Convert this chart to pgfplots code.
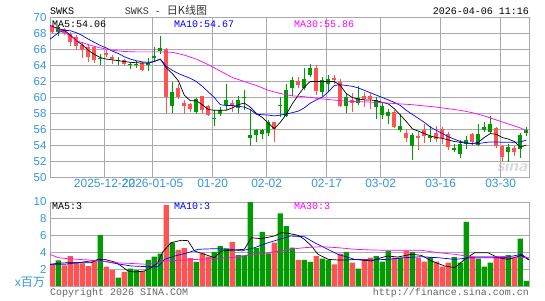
\documentclass[border=0pt]{standalone}
\usepackage{fontspec}
\setmainfont{Liberation Sans}
\setmonofont{Liberation Mono}
\newfontfamily\cjk{Noto Sans CJK SC}
\usepackage{pgfplots}
\usepackage{pgfplotstable}
\pgfplotsset{compat=1.18}
\definecolor{cred}{RGB}{255,82,82}
\definecolor{cgreen}{RGB}{0,155,0}
\definecolor{lblue}{RGB}{51,150,220}
\definecolor{gridc}{RGB}{170,170,170}
\definecolor{cmag}{RGB}{255,0,255}

% red (rising) candles: i open high low close volume(millions)
\pgfplotstableread{
i o h l c v
0 68.17 69.08 67.96 68.92 2.58
2 68.08 68.67 67.83 68.50 2.46
3 66.92 68.17 66.42 67.96 3.57
4 66.42 67.75 65.88 67.54 2.78
5 65.96 66.92 64.92 66.58 2.70
6 65.04 66.71 64.42 66.29 2.38
7 64.63 66.42 64.33 66.29 2.98
9 65.33 65.88 65.04 65.54 2.30
10 64.75 65.33 64.21 65.04 1.90
12 64.21 64.83 64.00 64.71 1.67
15 63.46 64.42 63.29 64.29 1.79
19 60.04 66.21 58.08 66.08 9.64
21 60.04 61.71 59.83 61.17 4.29
22 59.00 59.63 57.88 59.33 4.52
23 58.58 59.33 58.17 59.21 3.33
25 58.50 60.25 57.96 60.17 3.89
26 57.83 59.08 57.75 58.92 3.49
30 59.00 59.63 58.17 59.33 5.24
37 56.08 57.00 54.50 56.92 5.16
41 61.58 62.54 61.17 62.00 3.10
44 60.75 64.00 60.33 63.67 3.57
47 62.13 62.75 61.71 62.42 2.58
48 58.92 62.33 58.79 61.92 3.85
50 59.33 60.58 58.17 59.75 2.78
52 59.83 60.67 58.79 60.25 3.17
53 59.83 60.58 58.58 60.25 3.37
57 56.29 58.38 56.17 58.25 3.37
59 54.92 56.08 54.42 55.54 4.17
61 54.92 55.67 53.38 55.17 3.37
62 55.25 56.71 54.33 55.88 2.90
64 54.83 56.50 54.42 55.58 2.90
65 54.92 56.29 54.21 56.08 2.30
66 53.79 55.67 53.38 55.46 2.78
70 54.50 55.58 54.00 55.46 3.49
74 53.92 56.29 53.67 56.17 3.57
75 52.54 54.08 51.92 54.00 3.57
77 53.17 54.00 52.75 53.71 3.37
}\redk

% green (falling) candles
\pgfplotstableread{
i o h l c v
1 68.79 69.08 67.63 68.17 3.06
8 64.92 65.46 64.08 64.75 6.07
11 64.71 65.04 64.08 64.54 0.99
13 64.21 64.42 63.50 64.00 2.06
14 64.21 64.50 63.67 64.00 1.90
16 64.29 64.92 63.33 64.00 3.10
17 65.17 66.29 64.42 64.92 3.49
18 66.21 67.67 65.46 65.75 3.85
20 60.67 61.92 58.08 58.92 5.16
24 59.83 59.92 57.88 58.17 2.86
27 57.42 58.38 56.38 57.33 4.05
28 58.46 58.79 57.75 57.96 4.76
29 59.63 61.71 58.38 59.08 4.48
31 59.75 60.17 58.08 58.71 3.69
32 60.00 60.88 58.38 59.92 3.65
33 55.33 58.38 53.92 54.96 10.50
34 55.88 56.08 54.42 55.33 4.52
35 55.88 56.08 54.83 55.46 6.43
36 57.00 57.25 55.25 55.58 3.89
38 59.00 60.04 57.54 58.92 8.65
39 60.88 61.71 57.54 57.75 7.14
40 62.13 62.54 60.25 61.17 4.56
42 62.33 63.67 60.88 61.17 3.10
43 63.67 64.21 62.54 62.75 2.86
45 62.13 62.54 60.25 60.67 3.25
46 62.25 62.75 60.67 61.71 3.10
49 60.04 60.46 58.08 59.00 4.05
51 59.92 61.42 59.08 59.33 2.06
54 59.63 60.04 57.33 58.79 3.57
55 59.00 59.33 57.33 57.83 2.90
56 58.17 58.58 56.71 57.75 4.17
58 56.50 57.96 55.67 56.00 3.37
60 55.33 55.58 52.25 53.92 4.05
63 55.25 56.42 54.50 54.92 3.45
67 53.67 54.21 53.25 53.50 3.45
68 54.21 54.63 52.42 52.96 2.78
69 54.63 55.25 53.58 54.21 7.62
71 55.46 56.71 54.00 54.08 3.25
72 56.29 56.92 55.67 56.00 2.30
73 56.71 57.67 55.46 55.67 2.78
76 53.79 54.21 51.92 53.25 3.69
78 55.33 55.58 52.42 53.58 5.63
79 55.88 56.29 55.25 55.58 0.60
}\greenk

% price moving averages
\pgfplotstableread{
i m
-0.38 69.0
0 68.9
1 68.6
2 68.4
3 67.8
4 67.1
5 66.6
6 65.9
7 65.4
8 65.0
9 64.8
10 64.7
11 64.6
12 64.5
13 64.4
14 64.35
15 64.3
16 64.3
17 64.5
18 64.8
19 63.7
20 63.0
21 62.1
22 60.3
23 59.6
24 59.6
25 59.1
26 58.5
27 58.4
28 58.4
29 58.4
30 58.7
31 59.1
32 59.3
33 58.8
34 58.0
35 57.5
36 56.8
37 56.1
38 56.9
39 57.9
40 59.2
41 60.3
42 61.3
43 62.0
44 62.0
45 62.0
46 62.0
47 62.0
48 61.5
49 60.5
50 60.0
51 59.8
52 59.7
53 59.7
54 59.6
55 59.4
56 59.2
57 58.6
58 57.8
59 57.0
60 56.1
61 55.8
62 55.5
63 55.2
64 55.0
65 54.9
66 54.7
67 54.5
68 54.4
69 54.3
70 54.25
71 54.4
72 55.0
73 55.5
74 55.4
75 55.0
76 54.8
77 54.5
78 53.8
79 54.06
}\maV
\pgfplotstableread{
i m
-0.38 67.3
0 67.5
1 68.1
2 68.4
3 68.35
4 68.1
5 67.75
6 67.3
7 66.9
8 66.5
9 66.2
10 65.8
11 65.5
12 65.1
13 64.8
14 64.6
15 64.45
16 64.4
17 64.5
18 64.8
19 63.9
20 63.4
21 63.0
22 62.7
23 62.4
24 62.0
25 61.4
26 60.7
27 60.0
28 59.1
29 59.0
30 59.0
31 58.9
32 58.8
33 58.5
34 57.9
35 57.85
36 57.8
37 57.7
38 57.8
39 57.95
40 58.1
41 58.3
42 58.7
43 59.3
44 59.7
45 60.05
46 60.7
47 61.5
48 61.6
49 61.5
50 61.4
51 61.2
52 60.9
53 60.6
54 60.3
55 60.0
56 59.7
57 59.4
58 59.0
59 58.4
60 57.9
61 57.4
62 56.9
63 56.3
64 55.9
65 55.5
66 55.1
67 54.8
68 54.5
69 54.35
70 54.2
71 54.25
72 54.35
73 54.45
74 54.45
75 54.4
76 54.4
77 54.4
78 54.45
79 54.67
}\maX
\pgfplotstableread{
i m
-0.38 68.95
0 68.85
2 68.2
4 67.1
6 66.6
8 66.2
10 65.9
12 65.75
14 65.7
16 65.7
18 65.7
20 65.65
22 65.3
24 64.8
26 64.1
28 63.3
30 62.5
32 62.0
34 61.5
36 60.9
38 60.5
40 60.2
42 60.1
44 59.9
46 59.75
48 59.6
50 59.5
52 59.45
54 59.4
56 59.3
58 59.2
60 59.1
62 58.95
64 58.8
66 58.6
68 58.4
70 58.1
72 57.7
74 57.2
76 56.7
78 56.2
79 55.86
}\maXXX

% volume moving averages
\pgfplotstableread{
i m
-0.38 2.58
1 2.70
2.6 2.78
6.5 2.78
7.6 3.17
8.7 3.17
10.4 2.86
11.5 2.38
12.6 1.79
13.7 1.67
15.4 1.79
16.5 2.18
17.6 2.78
18.4 4.05
19.8 5.16
21.5 5.44
22.6 5.40
23.7 4.17
25.4 3.77
27 3.37
28.2 4.17
30.4 4.29
32 4.37
33.2 5.75
34.8 5.63
37 5.95
38.2 6.35
39.3 6.27
41 6.03
42 5.56
43.2 4.76
44.3 3.77
46 3.17
47.6 3.10
49.3 3.10
50.4 3.17
53.2 2.98
54.8 3.37
55.9 3.57
57.6 3.45
59.8 3.77
61.5 3.65
63.2 2.98
65.4 2.38
67.1 2.18
68.7 3.17
70.4 3.97
72.6 3.97
74.3 3.37
76 3.17
78.2 3.65
79.45 3.10
}\vmaV
\pgfplotstableread{
i m
-0.38 2.58
2 2.58
4.3 2.78
7.6 3.10
10.4 2.70
13.2 2.38
16 2.30
17.6 2.30
18.7 3.17
20.4 3.57
22.6 3.97
24.3 4.37
27 4.44
29.8 4.37
31.5 4.17
33.7 4.56
36 5.16
38.2 5.63
39.6 5.95
42 5.87
43.7 5.16
44.8 4.76
47.6 3.77
50.4 3.17
53.2 3.10
55.9 3.17
58.7 3.37
61.5 3.49
64.3 3.37
67.1 3.17
69.8 3.37
72.6 3.37
75.3 3.37
78.2 3.77
79.45 3.17
}\vmaX
\pgfplotstableread{
i m
-0.38 3.77
1 3.37
2.6 3.25
6 3.10
10.4 2.78
16 2.58
17.6 2.78
18.7 2.98
24.3 3.17
29.8 3.37
32.6 3.65
38.2 4.17
39.6 4.37
42 4.56
44.8 4.68
47.6 4.56
50.4 4.37
53.2 4.29
55.9 4.25
61.5 4.25
64.3 3.97
67.1 3.77
69.8 3.49
72.6 3.49
75.3 3.49
79.45 3.37
}\vmaXXX

\newcommand{\mono}{\ttfamily\fontsize{10}{12}\selectfont}

\begin{document}
\begin{tikzpicture}
\useasboundingbox (0pt,0pt) rectangle (545pt,300pt);
% watermark
\node[text=gray!30, font=\sffamily\bfseries\itshape\fontsize{17}{17}\selectfont, inner sep=0pt] at (512pt,134pt) {sina};

\begin{axis}[
  at={(50pt,122.5pt)}, anchor=south west,
  scale only axis, width=479pt, height=160pt,
  xmin=-0.38, xmax=79.45, ymin=50, ymax=70,
  axis line style={gridc, line width=0.8pt},
  grid=major, major grid style={gridc, line width=0.8pt},
  major tick length=0pt,
  ytick={50,52,...,70},
  xtick={8.72,16.72,26.72,35.72,45.72,54.72,64.72,74.72},
  xticklabels={2025-12-22,2026-01-05,01-20,02-02,02-17,03-02,03-16,03-30},
  /pgf/number format/assume math mode=true,
  yticklabel style={font=\fontsize{11.5}{12}\selectfont, text=lblue},
  xticklabel style={font=\fontsize{12}{12}\selectfont, text=lblue, yshift=2pt},
  clip=true,
]
% red wicks and bodies
\addplot[draw=none, forget plot, error bars/.cd, y dir=plus, y explicit, error mark=none,
  error bar style={draw=cred, line width=1pt}]
  table[x=i, y=l, y error expr=\thisrow{h}-\thisrow{l}] {\redk};
\addplot[draw=none, forget plot, error bars/.cd, y dir=plus, y explicit, error mark=none,
  error bar style={draw=cred, line width=4pt}]
  table[x=i, y=o, y error expr={max(\thisrow{c}-\thisrow{o},0.12)}] {\redk};
% green wicks and bodies
\addplot[draw=none, forget plot, error bars/.cd, y dir=plus, y explicit, error mark=none,
  error bar style={draw=cgreen, line width=1pt}]
  table[x=i, y=l, y error expr=\thisrow{h}-\thisrow{l}] {\greenk};
\addplot[draw=none, forget plot, error bars/.cd, y dir=plus, y explicit, error mark=none,
  error bar style={draw=cgreen, line width=4pt}]
  table[x=i, y=c, y error expr={max(\thisrow{o}-\thisrow{c},0.12)}] {\greenk};
% moving averages
\addplot[black, line width=0.7pt] table[x=i, y=m] {\maV};
\addplot[blue, line width=0.7pt] table[x=i, y=m] {\maX};
\addplot[cmag, line width=0.7pt] table[x=i, y=m] {\maXXX};
\end{axis}

\begin{axis}[
  at={(50pt,14pt)}, anchor=south west,
  scale only axis, width=479pt, height=84pt,
  xmin=-0.38, xmax=79.45, ymin=0, ymax=10,
  axis line style={gridc, line width=0.8pt},
  ymajorgrids, major grid style={gridc, line width=0.8pt},
  major tick length=0pt,
  ytick={2,4,...,10}, xtick=\empty,
  /pgf/number format/assume math mode=true,
  yticklabel style={font=\fontsize{11.5}{12}\selectfont, text=lblue},
  clip=true,
]
\addplot[ybar, bar width=5.2pt, bar shift=0pt, fill=cred, draw=none] table[x=i, y=v] {\redk};
\addplot[ybar, bar width=5.2pt, bar shift=0pt, fill=cgreen, draw=none] table[x=i, y=v] {\greenk};
\addplot[black, line width=0.7pt] table[x=i, y=m] {\vmaV};
\addplot[blue, line width=0.7pt] table[x=i, y=m] {\vmaX};
\addplot[cmag, line width=0.7pt] table[x=i, y=m] {\vmaXXX};
\end{axis}

% texts
\node[anchor=west, inner sep=0pt, font=\mono] at (50pt,289pt) {SWKS};
\node[anchor=center, inner sep=0pt, text=black!80] at (166pt,290pt) {\mono SWKS - {\cjk\fontsize{11}{12}\selectfont 日K线图}};
\node[anchor=east, inner sep=0pt, font=\mono] at (529pt,289pt) {2026-04-06 11:16};
\node[anchor=west, inner sep=0pt, font=\mono] at (52pt,276pt) {MA5:54.06};
\node[anchor=west, inner sep=0pt, font=\mono, text=blue] at (174pt,276pt) {MA10:54.67};
\node[anchor=west, inner sep=0pt, font=\mono, text=cmag] at (294pt,276pt) {MA30:55.86};
\node[anchor=west, inner sep=0pt, font=\mono] at (52pt,94pt) {MA5:3};
\node[anchor=west, inner sep=0pt, font=\mono, text=blue] at (174pt,94pt) {MA10:3};
\node[anchor=west, inner sep=0pt, font=\mono, text=cmag] at (294pt,94pt) {MA30:3};
\node[anchor=east, inner sep=0pt, text=lblue, font=\fontsize{12}{12}\selectfont] at (45pt,18pt) {x{\cjk 百万}};
\node[anchor=west, inner sep=0pt, font=\mono, text=black!60] at (50pt,7pt) {Copyright 2026 SINA.COM};
\node[anchor=east, inner sep=0pt, font=\mono, text=black!60] at (529pt,7pt) {http://finance.sina.com.cn};
\end{tikzpicture}
\end{document}
